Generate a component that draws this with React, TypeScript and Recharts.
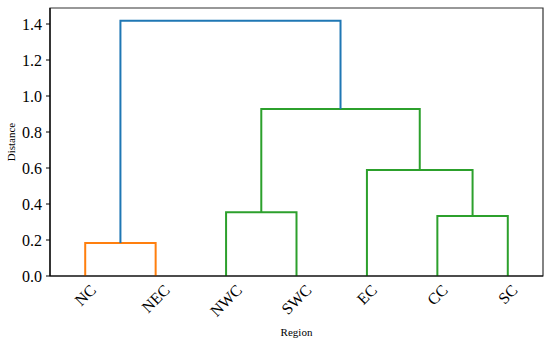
import { LineChart, Line, XAxis, YAxis, ReferenceArea, Label } from "recharts";

// leaf order as drawn by the dendrogram
const leaves = ["NC", "NEC", "NWC", "SWC", "EC", "CC", "SC"];

// linkage rows: [left id, right id, merge distance]; ids >= leaves.length are earlier merges
const merges: [number, number, number][] = [
  [0, 1, 0.183],
  [2, 3, 0.354],
  [5, 6, 0.333],
  [4, 9, 0.589],
  [8, 10, 0.928],
  [7, 11, 1.418],
];

const linkColors = ["#ff7f0e", "#2ca02c", "#2ca02c", "#2ca02c", "#2ca02c", "#1f77b4"];

const yTicks = [0, 0.2, 0.4, 0.6, 0.8, 1.0, 1.2, 1.4];

const FONT = "Liberation Serif, Times New Roman, serif";

// scipy-style coordinates: leaf i sits at 10*i + 5
const buildLinks = () => {
  const pos: { x: number; h: number }[] = leaves.map((_, i) => ({ x: i * 10 + 5, h: 0 }));
  return merges.map(([a, b, h]) => {
    const A = pos[a];
    const B = pos[b];
    pos.push({ x: (A.x + B.x) / 2, h });
    return [
      { x: A.x, y: A.h },
      { x: A.x, y: h },
      { x: B.x, y: h },
      { x: B.x, y: B.h },
    ];
  });
};

const links = buildLinks();
const xMax = leaves.length * 10;
const yMax = Math.max(...merges.map((m) => m[2])) * 1.05;

const charW: Record<string, number> = { N: 0.722, C: 0.667, E: 0.611, W: 0.944, S: 0.556 };

const LeafTick = (props: any) => {
  const { x, y, payload } = props;
  const label = leaves[Math.round((payload.value - 5) / 10)] ?? "";
  const fs = 16;
  const w = label.split("").reduce((s: number, c: string) => s + (charW[c] ?? 0.6), 0) * fs;
  const cy = y + 5 + (w + fs * 1.1) / 2.83;
  return (
    <text
      x={x}
      y={cy}
      transform={`rotate(-45, ${x}, ${cy})`}
      textAnchor="middle"
      dominantBaseline="central"
      fontSize={fs}
      fontFamily={FONT}
      fill="#000"
    >
      {label}
    </text>
  );
};

const YTick = (props: any) => {
  const { x, y, payload } = props;
  return (
    <text x={x} y={y} textAnchor="end" dominantBaseline="central" fontSize={16} fontFamily={FONT} fill="#000">
      {Number(payload.value).toFixed(1)}
    </text>
  );
};

export default function App() {
  return (
    <div style={{ position: "absolute", left: 0, top: 0, width: 550, height: 341, background: "#fff" }}>
      <LineChart width={550} height={341} margin={{ top: 8, right: 7, left: 0, bottom: 0 }}>
        <XAxis
          type="number"
          dataKey="x"
          domain={[0, xMax]}
          ticks={leaves.map((_, i) => i * 10 + 5)}
          tick={LeafTick}
          tickLine={false}
          tickSize={0}
          tickMargin={0}
          height={65}
          axisLine={{ stroke: "#000", strokeWidth: 1.2 }}
          allowDataOverflow
        />
        <YAxis
          type="number"
          domain={[0, yMax]}
          ticks={yTicks}
          width={50}
          tickSize={4}
          tickMargin={4}
          tick={YTick}
          tickLine={{ stroke: "#000" }}
          axisLine={{ stroke: "#000", strokeWidth: 1.2 }}
          allowDataOverflow
        />
        <ReferenceArea
          x1={0}
          x2={xMax}
          y1={0}
          y2={yMax}
          fill="none"
          fillOpacity={0}
          stroke="#333"
          strokeWidth={1.2}
          ifOverflow="visible"
        >
          <Label
            content={() => (
              <g>
                <text x={296.5} y={332} textAnchor="middle" dominantBaseline="central" fontSize={11} fontFamily={FONT} fill="#000">
                  Region
                </text>
                <text
                  x={11}
                  y={142}
                  transform="rotate(-90, 11, 142)"
                  textAnchor="middle"
                  dominantBaseline="central"
                  fontSize={11}
                  fontFamily={FONT}
                  fill="#000"
                >
                  Distance
                </text>
              </g>
            )}
          />
        </ReferenceArea>
        {links.map((pts, i) => (
          <Line
            key={i}
            data={pts}
            dataKey="y"
            type="linear"
            stroke={linkColors[i]}
            strokeWidth={2}
            dot={false}
            activeDot={false}
            isAnimationActive={false}
          />
        ))}
      </LineChart>
    </div>
  );
}
